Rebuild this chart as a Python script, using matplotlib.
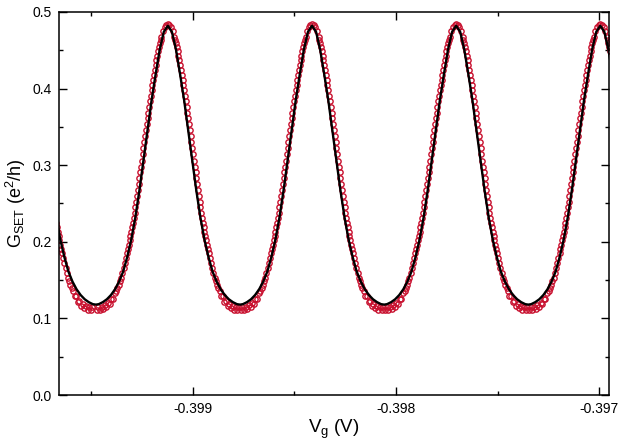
import matplotlib
matplotlib.use('Agg')
import matplotlib.pyplot as plt
import numpy as np

plt.rcParams['font.family'] = ['Liberation Sans', 'DejaVu Sans']
plt.rcParams['mathtext.fontset'] = 'custom'
plt.rcParams['mathtext.rm'] = 'Liberation Sans'
plt.rcParams['mathtext.it'] = 'Liberation Sans:italic'

# measured data, gate voltage in microvolts, conductance in e^2/h
vg_seg0 = [-399675, -399671, -399667, -399663, -399659, -399655, -399651, -399647, -399643,
           -399637, -399631, -399625, -399619, -399613, -399607, -399601, -399595, -399589,
           -399581, -399573, -399565, -399557, -399549, -399541, -399533, -399525, -399517,
           -399509, -399501, -399493]
g_seg0 = [0.2314, 0.225, 0.219, 0.213, 0.2074, 0.2018, 0.1964, 0.1912, 0.186,
          0.1788, 0.1718, 0.1652, 0.159, 0.153, 0.1482, 0.1436, 0.1394, 0.1356,
          0.1288, 0.129, 0.1218, 0.123, 0.1165, 0.1186, 0.1132, 0.1162, 0.1115,
          0.115, 0.1107, 0.1145]

vg_peak1 = [-399472, -399464, -399456, -399448, -399440, -399432, -399424, -399416, -399408, -399400, -399392, -399384,
            -399376, -399370, -399364, -399358, -399352, -399346, -399340, -399334, -399328,
            -399322, -399318, -399314, -399310, -399306, -399302, -399298, -399294, -399290, -399286, -399282,
            -399278, -399274, -399270, -399266, -399262, -399258, -399254, -399250, -399246, -399242, -399238,
            -399234, -399230, -399226, -399222, -399218, -399214, -399210, -399206, -399202, -399198, -399194,
            -399190, -399186, -399182, -399178, -399174, -399170, -399166, -399162, -399158,
            -399154, -399146, -399138, -399130,
            -399122,
            -399114, -399106, -399098, -399090,
            -399086, -399082, -399078, -399074, -399070, -399066, -399062, -399058, -399054, -399050, -399046,
            -399042, -399038, -399034, -399030, -399026, -399022, -399018, -399014, -399010, -399006, -399002,
            -398998, -398994, -398990, -398986, -398982, -398978, -398974, -398970, -398966, -398962, -398958,
            -398954, -398950, -398946, -398942, -398938, -398934, -398930, -398926, -398922,
            -398916, -398910, -398904, -398898, -398892, -398886, -398880, -398874, -398868,
            -398860, -398852, -398844, -398836, -398828, -398820, -398812, -398804, -398796, -398788, -398780, -398772]
g_peak1 = [0.1105, 0.1147, 0.111, 0.1155, 0.1122, 0.1172, 0.1146, 0.1205, 0.119, 0.1258, 0.125, 0.1328,
           0.1356, 0.1394, 0.1436, 0.1482, 0.153, 0.159, 0.1652, 0.1718, 0.1788,
           0.186, 0.1912, 0.1964, 0.2018, 0.2074, 0.213, 0.219, 0.225, 0.2314, 0.2382, 0.245,
           0.2522, 0.2594, 0.267, 0.275, 0.283, 0.2906, 0.2982, 0.306, 0.314, 0.322, 0.330,
           0.338, 0.3458, 0.3534, 0.361, 0.3686, 0.3762, 0.3836, 0.3908, 0.398, 0.4048, 0.4116,
           0.4182, 0.4246, 0.431, 0.437, 0.443, 0.4486, 0.4538, 0.459, 0.4634,
           0.4678, 0.4748, 0.480, 0.4832,
           0.484,
           0.4832, 0.480, 0.4748, 0.4678,
           0.4634, 0.459, 0.4538, 0.4486, 0.443, 0.437, 0.431, 0.4246, 0.4182, 0.4116, 0.4048,
           0.398, 0.3908, 0.3836, 0.3762, 0.3686, 0.361, 0.3534, 0.3458, 0.338, 0.330, 0.322,
           0.314, 0.306, 0.2982, 0.2906, 0.283, 0.275, 0.267, 0.2594, 0.2522, 0.245, 0.2382,
           0.2314, 0.225, 0.219, 0.213, 0.2074, 0.2018, 0.1964, 0.1912, 0.186,
           0.1788, 0.1718, 0.1652, 0.159, 0.153, 0.1482, 0.1436, 0.1394, 0.1356,
           0.1288, 0.129, 0.1218, 0.123, 0.1165, 0.1186, 0.1132, 0.1162, 0.1115, 0.115, 0.1107, 0.1145]

vg_peak2 = [-398763, -398755, -398747, -398739, -398731, -398723, -398715, -398707, -398699, -398691, -398683, -398675,
            -398667, -398661, -398655, -398649, -398643, -398637, -398631, -398625, -398619,
            -398613, -398609, -398605, -398601, -398597, -398593, -398589, -398585, -398581, -398577, -398573,
            -398569, -398565, -398561, -398557, -398553, -398549, -398545, -398541, -398537, -398533, -398529,
            -398525, -398521, -398517, -398513, -398509, -398505, -398501, -398497, -398493, -398489, -398485,
            -398481, -398477, -398473, -398469, -398465, -398461, -398457, -398453, -398449,
            -398445, -398437, -398429, -398421,
            -398413,
            -398405, -398397, -398389, -398381,
            -398377, -398373, -398369, -398365, -398361, -398357, -398353, -398349, -398345, -398341, -398337,
            -398333, -398329, -398325, -398321, -398317, -398313, -398309, -398305, -398301, -398297, -398293,
            -398289, -398285, -398281, -398277, -398273, -398269, -398265, -398261, -398257, -398253, -398249,
            -398245, -398241, -398237, -398233, -398229, -398225, -398221, -398217, -398213,
            -398207, -398201, -398195, -398189, -398183, -398177, -398171, -398165, -398159,
            -398151, -398143, -398135, -398127, -398119, -398111, -398103, -398095, -398087, -398079, -398071, -398063]
g_peak2 = [0.1105, 0.1147, 0.111, 0.1155, 0.1122, 0.1172, 0.1146, 0.1205, 0.119, 0.1258, 0.125, 0.1328,
           0.1356, 0.1394, 0.1436, 0.1482, 0.153, 0.159, 0.1652, 0.1718, 0.1788,
           0.186, 0.1912, 0.1964, 0.2018, 0.2074, 0.213, 0.219, 0.225, 0.2314, 0.2382, 0.245,
           0.2522, 0.2594, 0.267, 0.275, 0.283, 0.2906, 0.2982, 0.306, 0.314, 0.322, 0.330,
           0.338, 0.3458, 0.3534, 0.361, 0.3686, 0.3762, 0.3836, 0.3908, 0.398, 0.4048, 0.4116,
           0.4182, 0.4246, 0.431, 0.437, 0.443, 0.4486, 0.4538, 0.459, 0.4634,
           0.4678, 0.4748, 0.480, 0.4832,
           0.484,
           0.4832, 0.480, 0.4748, 0.4678,
           0.4634, 0.459, 0.4538, 0.4486, 0.443, 0.437, 0.431, 0.4246, 0.4182, 0.4116, 0.4048,
           0.398, 0.3908, 0.3836, 0.3762, 0.3686, 0.361, 0.3534, 0.3458, 0.338, 0.330, 0.322,
           0.314, 0.306, 0.2982, 0.2906, 0.283, 0.275, 0.267, 0.2594, 0.2522, 0.245, 0.2382,
           0.2314, 0.225, 0.219, 0.213, 0.2074, 0.2018, 0.1964, 0.1912, 0.186,
           0.1788, 0.1718, 0.1652, 0.159, 0.153, 0.1482, 0.1436, 0.1394, 0.1356,
           0.1288, 0.129, 0.1218, 0.123, 0.1165, 0.1186, 0.1132, 0.1162, 0.1115, 0.115, 0.1107, 0.1145]

vg_peak3 = [-398054, -398046, -398038, -398030, -398022, -398014, -398006, -397998, -397990, -397982, -397974, -397966,
            -397958, -397952, -397946, -397940, -397934, -397928, -397922, -397916, -397910,
            -397904, -397900, -397896, -397892, -397888, -397884, -397880, -397876, -397872, -397868, -397864,
            -397860, -397856, -397852, -397848, -397844, -397840, -397836, -397832, -397828, -397824, -397820,
            -397816, -397812, -397808, -397804, -397800, -397796, -397792, -397788, -397784, -397780, -397776,
            -397772, -397768, -397764, -397760, -397756, -397752, -397748, -397744, -397740,
            -397736, -397728, -397720, -397712,
            -397704,
            -397696, -397688, -397680, -397672,
            -397668, -397664, -397660, -397656, -397652, -397648, -397644, -397640, -397636, -397632, -397628,
            -397624, -397620, -397616, -397612, -397608, -397604, -397600, -397596, -397592, -397588, -397584,
            -397580, -397576, -397572, -397568, -397564, -397560, -397556, -397552, -397548, -397544, -397540,
            -397536, -397532, -397528, -397524, -397520, -397516, -397512, -397508, -397504,
            -397498, -397492, -397486, -397480, -397474, -397468, -397462, -397456, -397450,
            -397442, -397434, -397426, -397418, -397410, -397402, -397394, -397386, -397378, -397370, -397362, -397354]
g_peak3 = [0.1105, 0.1147, 0.111, 0.1155, 0.1122, 0.1172, 0.1146, 0.1205, 0.119, 0.1258, 0.125, 0.1328,
           0.1356, 0.1394, 0.1436, 0.1482, 0.153, 0.159, 0.1652, 0.1718, 0.1788,
           0.186, 0.1912, 0.1964, 0.2018, 0.2074, 0.213, 0.219, 0.225, 0.2314, 0.2382, 0.245,
           0.2522, 0.2594, 0.267, 0.275, 0.283, 0.2906, 0.2982, 0.306, 0.314, 0.322, 0.330,
           0.338, 0.3458, 0.3534, 0.361, 0.3686, 0.3762, 0.3836, 0.3908, 0.398, 0.4048, 0.4116,
           0.4182, 0.4246, 0.431, 0.437, 0.443, 0.4486, 0.4538, 0.459, 0.4634,
           0.4678, 0.4748, 0.480, 0.4832,
           0.484,
           0.4832, 0.480, 0.4748, 0.4678,
           0.4634, 0.459, 0.4538, 0.4486, 0.443, 0.437, 0.431, 0.4246, 0.4182, 0.4116, 0.4048,
           0.398, 0.3908, 0.3836, 0.3762, 0.3686, 0.361, 0.3534, 0.3458, 0.338, 0.330, 0.322,
           0.314, 0.306, 0.2982, 0.2906, 0.283, 0.275, 0.267, 0.2594, 0.2522, 0.245, 0.2382,
           0.2314, 0.225, 0.219, 0.213, 0.2074, 0.2018, 0.1964, 0.1912, 0.186,
           0.1788, 0.1718, 0.1652, 0.159, 0.153, 0.1482, 0.1436, 0.1394, 0.1356,
           0.1288, 0.129, 0.1218, 0.123, 0.1165, 0.1186, 0.1132, 0.1162, 0.1115, 0.115, 0.1107, 0.1145]

vg_peak4 = [-397345, -397337, -397329, -397321, -397313, -397305, -397297, -397289, -397281, -397273, -397265, -397257,
            -397249, -397243, -397237, -397231, -397225, -397219, -397213, -397207, -397201,
            -397195, -397191, -397187, -397183, -397179, -397175, -397171, -397167, -397163, -397159, -397155,
            -397151, -397147, -397143, -397139, -397135, -397131, -397127, -397123, -397119, -397115, -397111,
            -397107, -397103, -397099, -397095, -397091, -397087, -397083, -397079, -397075, -397071, -397067,
            -397063, -397059, -397055, -397051, -397047, -397043, -397039, -397035, -397031,
            -397027, -397019, -397011, -397003,
            -396995,
            -396987, -396979, -396971, -396963, -396959, -396955, -396951, -396947]
g_peak4 = [0.1105, 0.1147, 0.111, 0.1155, 0.1122, 0.1172, 0.1146, 0.1205, 0.119, 0.1258, 0.125, 0.1328,
           0.1356, 0.1394, 0.1436, 0.1482, 0.153, 0.159, 0.1652, 0.1718, 0.1788,
           0.186, 0.1912, 0.1964, 0.2018, 0.2074, 0.213, 0.219, 0.225, 0.2314, 0.2382, 0.245,
           0.2522, 0.2594, 0.267, 0.275, 0.283, 0.2906, 0.2982, 0.306, 0.314, 0.322, 0.330,
           0.338, 0.3458, 0.3534, 0.361, 0.3686, 0.3762, 0.3836, 0.3908, 0.398, 0.4048, 0.4116,
           0.4182, 0.4246, 0.431, 0.437, 0.443, 0.4486, 0.4538, 0.459, 0.4634,
           0.4678, 0.4748, 0.480, 0.4832,
           0.484,
           0.4832, 0.480, 0.4748, 0.4678, 0.4634, 0.459, 0.4538, 0.4486]

# fitted curve
vg_fit = [-399671, -399651, -399631, -399611, -399591, -399571, -399551, -399531, -399511, -399491, -399476,
          -399462, -399442, -399422, -399402, -399382, -399362, -399342, -399322, -399302, -399282,
          -399262, -399242, -399222, -399202, -399182, -399162, -399142, -399122,
          -399102, -399082, -399062, -399042, -399022, -399002, -398982, -398962, -398942, -398922,
          -398902, -398882, -398862, -398842, -398822, -398802, -398782, -398767,
          -398753, -398733, -398713, -398693, -398673, -398653, -398633, -398613, -398593, -398573,
          -398553, -398533, -398513, -398493, -398473, -398453, -398433, -398413,
          -398393, -398373, -398353, -398333, -398313, -398293, -398273, -398253, -398233, -398213,
          -398193, -398173, -398153, -398133, -398113, -398093, -398073, -398058,
          -398044, -398024, -398004, -397984, -397964, -397944, -397924, -397904, -397884, -397864,
          -397844, -397824, -397804, -397784, -397764, -397744, -397724, -397704,
          -397684, -397664, -397644, -397624, -397604, -397584, -397564, -397544, -397524, -397504,
          -397484, -397464, -397444, -397424, -397404, -397384, -397364, -397349,
          -397335, -397315, -397295, -397275, -397255, -397235, -397215, -397195, -397175, -397155,
          -397135, -397115, -397095, -397075, -397055, -397035, -397015, -396995,
          -396975, -396955, -396935]
g_fit = [0.232, 0.203, 0.180, 0.161, 0.148, 0.138, 0.1305, 0.125, 0.1212, 0.1186, 0.118,
         0.1186, 0.1212, 0.125, 0.1305, 0.138, 0.148, 0.161, 0.180, 0.203, 0.232,
         0.267, 0.306, 0.346, 0.385, 0.419, 0.451, 0.474, 0.482,
         0.474, 0.451, 0.419, 0.385, 0.346, 0.306, 0.267, 0.232, 0.203, 0.180,
         0.161, 0.148, 0.138, 0.1305, 0.125, 0.1212, 0.1186, 0.118,
         0.1186, 0.1212, 0.125, 0.1305, 0.138, 0.148, 0.161, 0.180, 0.203, 0.232,
         0.267, 0.306, 0.346, 0.385, 0.419, 0.451, 0.474, 0.482,
         0.474, 0.451, 0.419, 0.385, 0.346, 0.306, 0.267, 0.232, 0.203, 0.180,
         0.161, 0.148, 0.138, 0.1305, 0.125, 0.1212, 0.1186, 0.118,
         0.1186, 0.1212, 0.125, 0.1305, 0.138, 0.148, 0.161, 0.180, 0.203, 0.232,
         0.267, 0.306, 0.346, 0.385, 0.419, 0.451, 0.474, 0.482,
         0.474, 0.451, 0.419, 0.385, 0.346, 0.306, 0.267, 0.232, 0.203, 0.180,
         0.161, 0.148, 0.138, 0.1305, 0.125, 0.1212, 0.1186, 0.118,
         0.1186, 0.1212, 0.125, 0.1305, 0.138, 0.148, 0.161, 0.180, 0.203, 0.232,
         0.267, 0.306, 0.346, 0.385, 0.419, 0.451, 0.474, 0.482,
         0.474, 0.451, 0.419]

red = '#c8102e'

vg_data = np.array(vg_seg0 + vg_peak1 + vg_peak2 + vg_peak3 + vg_peak4) * 1e-6
g_data = np.array(g_seg0 + g_peak1 + g_peak2 + g_peak3 + g_peak4)

fig = plt.figure(figsize=(6.23, 4.42), dpi=100)
ax = fig.add_axes([0.0942, 0.1063, 0.883, 0.8666])

ax.plot(vg_data, g_data, 'o', ms=3.8, mfc='none', mec=red, mew=1.0, zorder=2)
ax.plot(np.array(vg_fit) * 1e-6, g_fit, color='black', lw=1.7, zorder=3,
        solid_joinstyle='round')

ax.set_xlim(-0.399659, -0.3969532)
ax.set_ylim(0, 0.5)
ax.set_xticks([-0.399, -0.398, -0.397])
ax.set_xticklabels(['-0.399', '-0.398', '-0.397'])
ax.set_xticks([-0.3995, -0.3985, -0.3975], minor=True)
ax.set_yticks([0.0, 0.1, 0.2, 0.3, 0.4, 0.5])
ax.set_yticklabels(['0.0', '0.1', '0.2', '0.3', '0.4', '0.5'])
ax.set_yticks([0.05, 0.15, 0.25, 0.35, 0.45], minor=True)

ax.tick_params(which='both', direction='in', top=True, right=True, width=1.0,
               labelsize=10, pad=5)
ax.tick_params(which='major', length=5.5)
ax.tick_params(which='minor', length=3)
for s in ax.spines.values():
    s.set_linewidth(1.1)

ax.set_xlabel(r'V$_{\rm g}$ (V)', fontsize=13.5, labelpad=1)
ax.set_ylabel(r'G$_{\rm SET}$ (e$^{2}$/h)', fontsize=13, labelpad=3)

plt.savefig('out.png', dpi=100)
